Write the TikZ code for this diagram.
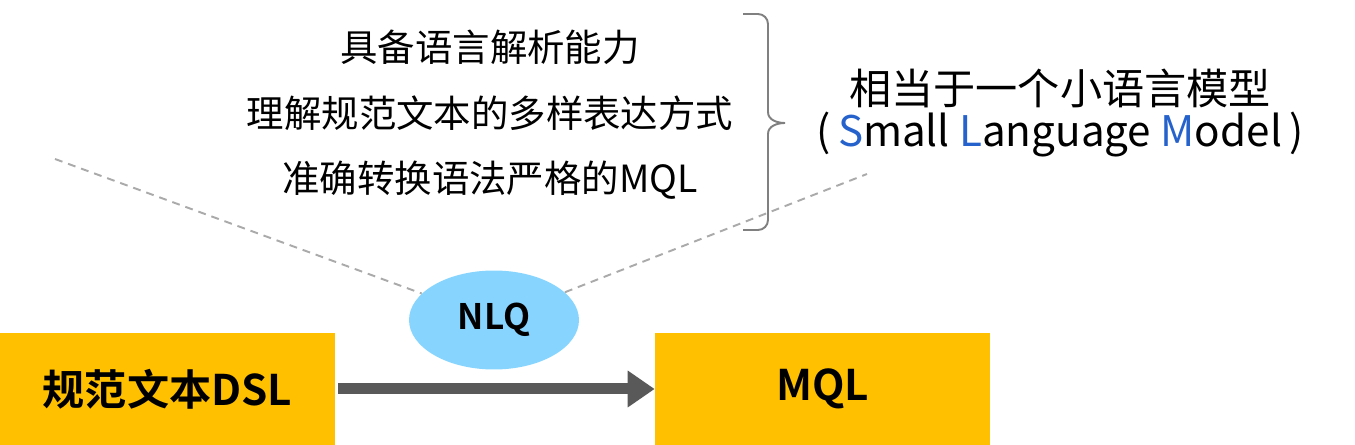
\documentclass[tikz,border=0pt]{standalone}
\usepackage{fontspec}
\usepackage{tikz}
\usetikzlibrary{arrows.meta, positioning, shapes.geometric}
\usepackage{xcolor}

\setmainfont{Noto Sans CJK SC}[BoldFont={Noto Sans CJK SC Bold}]

\definecolor{boxorange}{RGB}{255,192,0}
\definecolor{nlqblue}{RGB}{135,213,255}
\definecolor{arrowgray}{RGB}{89,89,89}
\definecolor{guidegray}{RGB}{170,170,170}
\definecolor{bracegray}{RGB}{128,128,128}
\definecolor{slmblue}{RGB}{38,98,204}

\tikzset{
  termbox/.style={fill=boxorange, minimum width=6.7cm, minimum height=2.24cm,
    inner sep=0pt, font=\fontsize{24}{29}\selectfont\bfseries},
  nlqell/.style={ellipse, fill=nlqblue, minimum width=3.4cm, minimum height=1.98cm,
    inner sep=0pt, font=\fontsize{20}{24}\selectfont\bfseries},
  note/.style={inner sep=0pt, font=\fontsize{21.3}{26}\selectfont},
  slm/.style={inner sep=0pt, font=\fontsize{24}{29}\selectfont},
  flowarrow/.style={arrowgray, line width=0.22cm, -{Triangle[length=0.54cm,width=0.7cm]}},
  guide/.style={guidegray, line width=1.1pt, dash pattern=on 4.5pt off 3.4pt},
}

\begin{document}
\begin{tikzpicture}[x=0.02cm, y=-0.02cm]
            \useasboundingbox (0,0) rectangle (1355,445);

            % boxes and the arrow between them
            \node[termbox] (dsl) at (167.5,389) {规范文本DSL};
            \node[termbox] (mql) at (822.5,389) {MQL};
            \draw[flowarrow] (dsl.east) ++(3,0) -- (mql.west);

            \node[nlqell] (nlq) at (494,320) {NLQ};

            % what the model has to do
            \node[note] (abl1) at (490,47) {具备语言解析能力};
            \node[note] (abl2) at (490,113) {理解规范文本的多样表达方式};
            \node[note] (abl3) at (490,180) {准确转换语法严格的MQL};

            \coordinate (gl) at (55,159);
            \coordinate (gr) at (867,174);
            \draw[guide] (gl) -- (nlq);
            \draw[guide] (nlq) -- (gr);

            \draw[bracegray, line width=1.1pt] (743,14) -- (758,14) to[out=0,in=90] (768,24)
                -- (768,112) to[out=-90,in=180] (785,123)
                to[out=180,in=90] (768,134) -- (768,220)
                to[out=-90,in=0] (758,230) -- (743,230);

            \node[slm] (slm1) at (1060,88) {相当于一个小语言模型};
            \node[slm] (slm2) at (1060,135) {(\,\textcolor{slmblue}{S}mall \textcolor{slmblue}{L}anguage \textcolor{slmblue}{M}odel\,)};
        \end{tikzpicture}
\end{document}
